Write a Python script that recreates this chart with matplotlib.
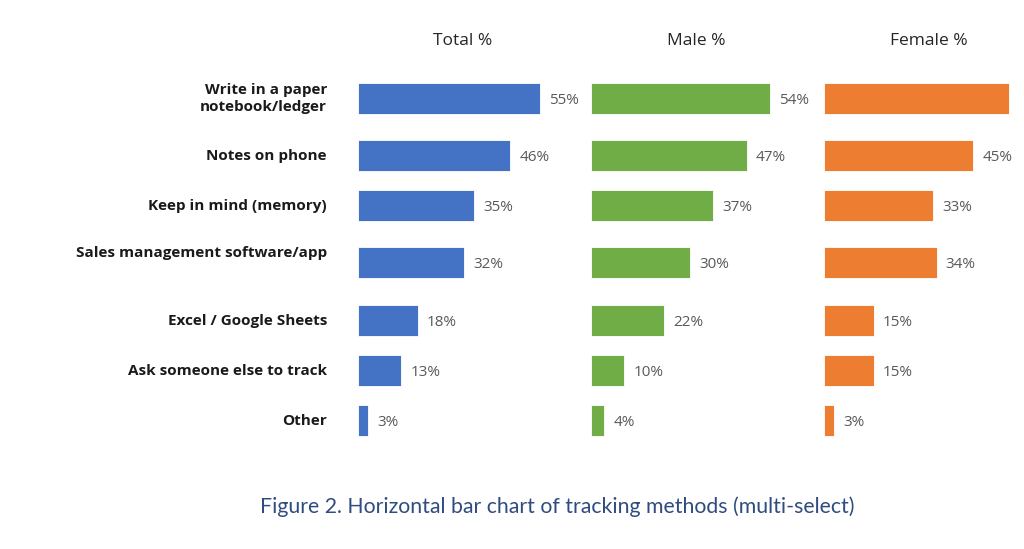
import matplotlib
matplotlib.use("Agg")
import matplotlib.pyplot as plt

plt.rcParams['font.family'] = ['Open Sans', 'DejaVu Sans']

# data
methods = ["Write in a paper\nnotebook/ledger", "Notes on phone", "Keep in mind (memory)",
           "Sales management software/app", "Excel / Google Sheets",
           "Ask someone else to track", "Other"]
total_pct = [55, 46, 35, 32, 18, 13, 3]
male_pct = [54, 47, 37, 30, 22, 10, 4]
female_pct = [56, 45, 33, 34, 15, 15, 3]
panel_titles = ["Total %", "Male %", "Female %"]

# layout (row centres in units of 50 px, first row at 0)
row_pos = [0, 1.148, 2.148, 3.274, 4.444, 5.444, 6.444]
label_shift = [0, 0, 0, -0.18, 0, 0, 0]
colors = ["#4472C4", "#70AD47", "#ED7D31"]

W, H = 1024, 549
px_per_pct = 3.31
fig = plt.figure(figsize=(W / 100, H / 100), dpi=100)

starts = [358, 591, 824]
widths = [233, 233, 1012 - 824]
y_top = -98.3 / 50
y_bot = (H - 98.3) / 50

for k, (vals, title) in enumerate(zip([total_pct, male_pct, female_pct], panel_titles)):
    ax = fig.add_axes([starts[k] / W, 0, widths[k] / W, 1])
    ax.set_xlim(0, widths[k] / px_per_pct)
    ax.set_ylim(y_bot, y_top)
    ax.axis("off")
    ax.barh(row_pos, vals, height=0.62, color=colors[k], edgecolor="white", linewidth=0.6)
    # the source image is cropped at the right, so the last panel clips its labels
    for y, v in zip(row_pos, vals):
        ax.text(v + 2.8, y + 0.04, f"{v}%", va="center", ha="left", fontsize=11,
                color="#595959", clip_on=(k == 2))
    ax.text(105 / px_per_pct, -57 / 50, title, ha="center", va="center",
            fontsize=12.5, color="#262626")
    if k == 0:
        for y, s, lab in zip(row_pos, label_shift, methods):
            ax.text(-31 / px_per_pct, y + s, lab, ha="right", va="center", fontsize=11,
                    fontweight="bold", color="#1a1a1a", linespacing=1.25)

fig.text(557 / W, 1 - 507 / H, "Figure 2. Horizontal bar chart of tracking methods (multi-select)",
         ha="center", va="center", fontsize=15.3, color="#2F4C7E", family=["Lato", "DejaVu Sans"])

fig.savefig("out.png", dpi=100, facecolor="white")
